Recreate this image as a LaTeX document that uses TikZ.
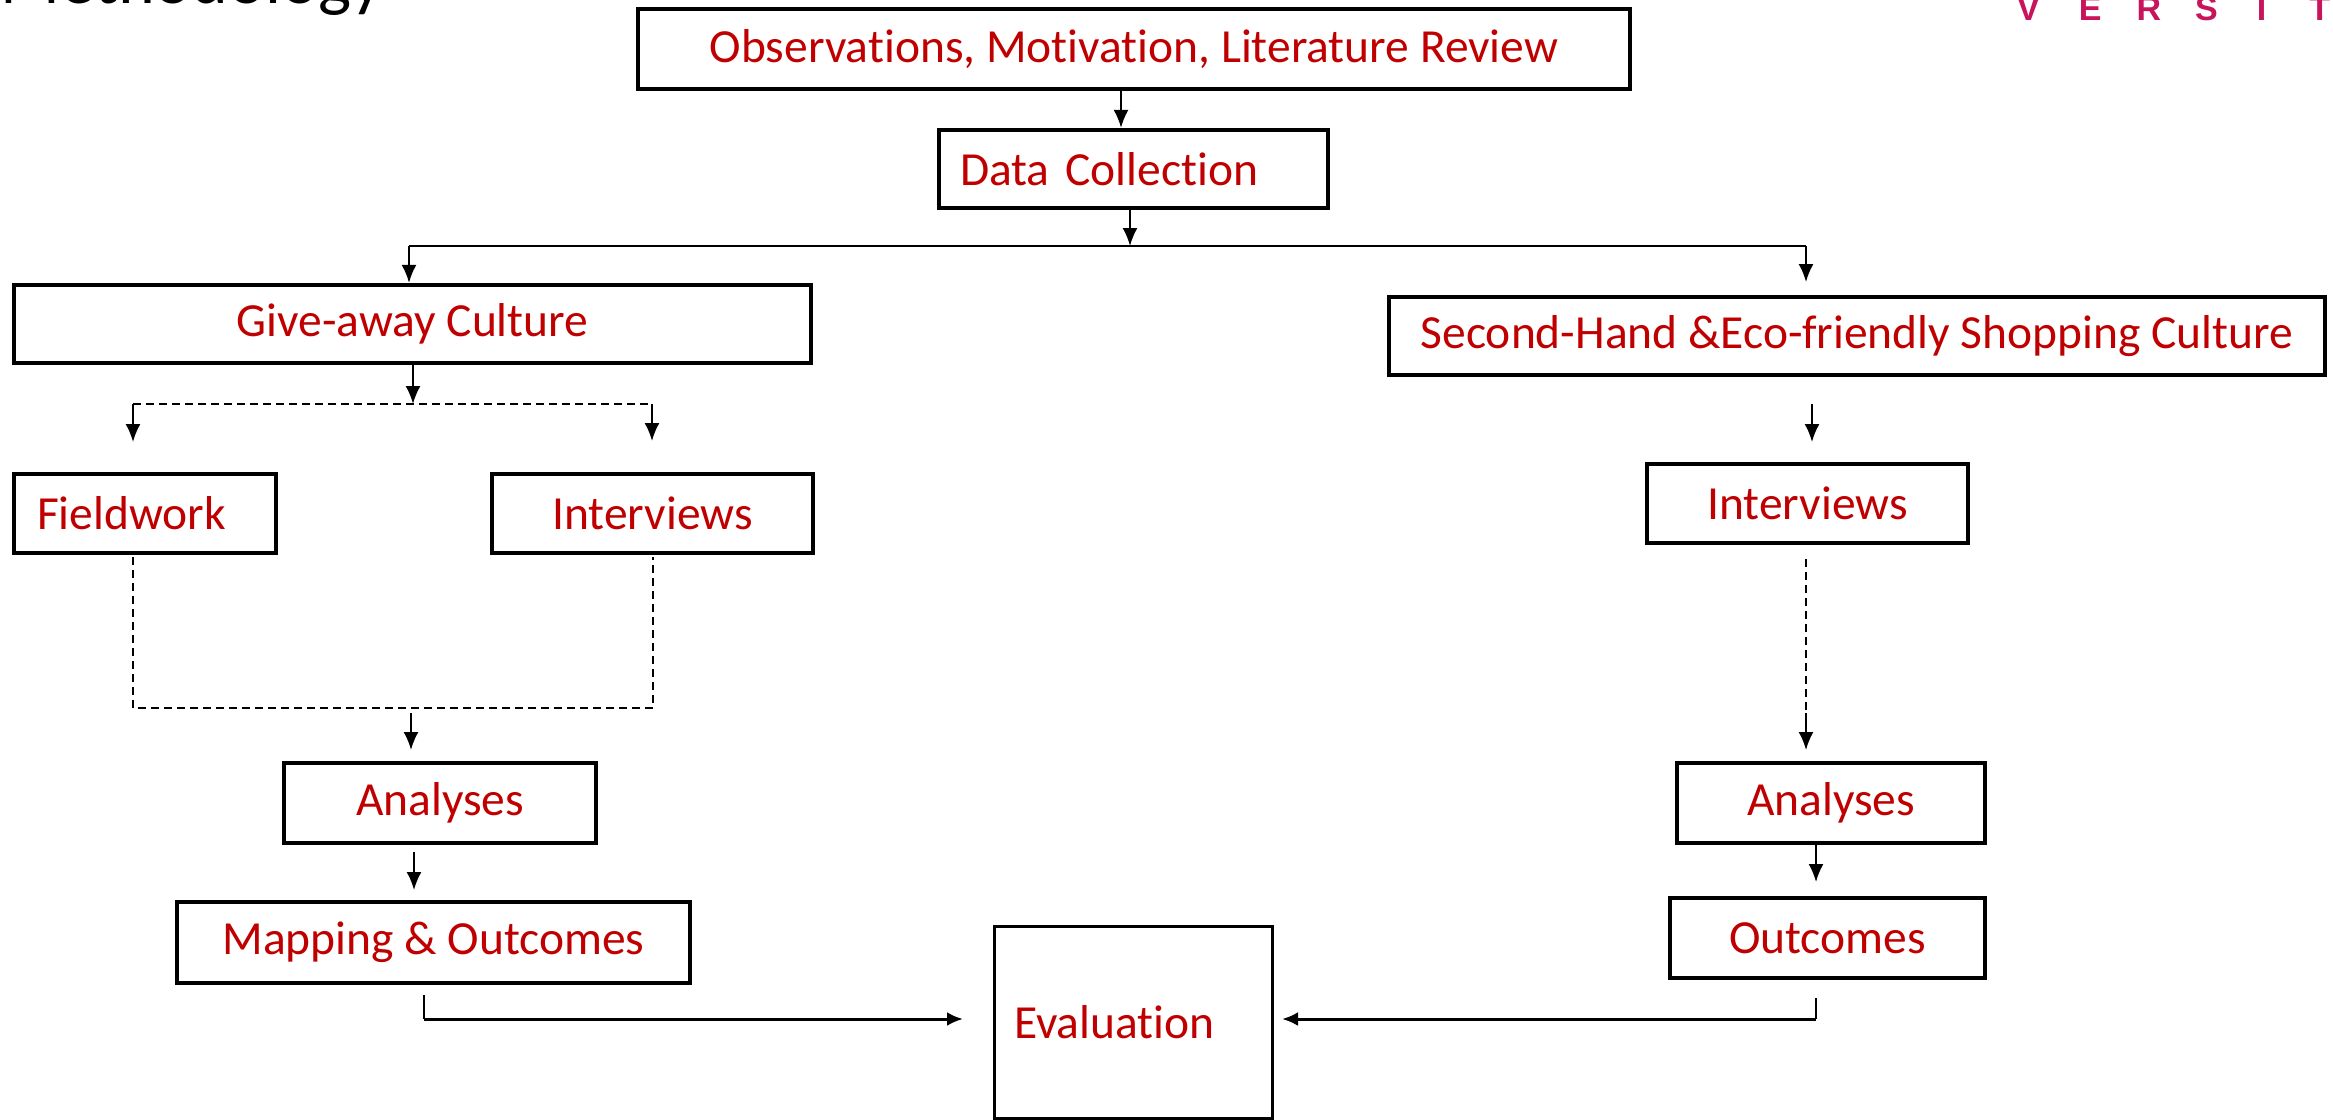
\documentclass[tikz,border=0pt]{standalone}
\usepackage{fontspec}
\setmainfont{Carlito}[Ligatures=NoCommon]
\newfontfamily\logofont{Liberation Sans}
\usetikzlibrary{arrows.meta}
\definecolor{txtred}{HTML}{C00000}
\definecolor{logopink}{HTML}{C8145A}
\begin{document}
\begin{tikzpicture}[x=1pt,y=-1pt,
  box/.style={draw=black, line width=4.3pt, inner sep=0pt, text=txtred,
    font=\fontsize{47.5}{56}\selectfont, fill=white},
  lbox/.style={box, align=left},
  arr/.style={line width=2pt, -{Latex[length=18pt,width=15pt]}},
  conn/.style={line width=1.6pt},
  dconn/.style={line width=1.6pt, dash pattern=on 8pt off 5pt},
]
\useasboundingbox[fill=white] (0,0) rectangle (2333,1119);

% partial header texts
\node[anchor=base west, inner sep=0pt, font=\fontsize{70}{80}\selectfont] (title) at (0,3) {Methodology};
\node[anchor=base west, inner sep=0pt, text=logopink, font=\logofont\bfseries\fontsize{34}{40}\selectfont] (logo) at (2017,20)
  {V\hspace{39pt}E\hspace{35pt}R\hspace{34pt}S\hspace{39pt}I\hspace{43pt}T};

% boxes
\node[box, minimum width=992, minimum height=80] (obs) at (1134,49) {Observations, Motivation, Literature Review};
\node[lbox, text width=347pt, inner xsep=21pt, minimum height=78] (data) at (1133.5,169) {Data Collection};
\node[box, minimum width=797, minimum height=78] (give) at (412.5,324) {Give-away Culture};
\node[box, minimum width=936, minimum height=78] (sec) at (1857,336) {Second-Hand \&Eco-friendly Shopping Culture};
\node[lbox, text width=216pt, inner xsep=23pt, minimum height=79] (field) at (145,513.5) {Fieldwork};
\node[box, minimum width=321, minimum height=79] (intl) at (652.5,513.5) {Interviews};
\node[box, minimum width=321, minimum height=79] (intr) at (1807.5,503.5) {Interviews};
\node[box, minimum width=312, minimum height=80] (anl) at (440,803) {Analyses};
\node[box, minimum width=308, minimum height=80] (anr) at (1831,803) {Analyses};
\node[box, minimum width=513, minimum height=81] (map) at (433.5,942.5) {Mapping \& Outcomes};
\node[box, minimum width=315, minimum height=80] (out) at (1827.5,938) {Outcomes};
\node[lbox, line width=3pt, text width=238pt, inner xsep=20pt, minimum height=192] (eval) at (1133,1022) {Evaluation};

% coordinates
\coordinate (c1) at (1121,89);
\coordinate (split) at (1130,246);
\coordinate (sl) at (409,246);
\coordinate (sr) at (1806,246);
\coordinate (srend) at (1806,282);
\coordinate (gsplit) at (413,404);
\coordinate (gl) at (133,404);
\coordinate (gr) at (652,404);
\coordinate (glend) at (133,442);
\coordinate (grend) at (652,441);
\coordinate (fl) at (133,557);
\coordinate (ml) at (133,708);
\coordinate (mr) at (653,708);
\coordinate (ir) at (653,557);
\coordinate (m1) at (411,713);
\coordinate (m2) at (411,750);
\coordinate (a1) at (414,852);
\coordinate (a2) at (414,890);
\coordinate (p1) at (424,995);
\coordinate (p2) at (424,1019);
\coordinate (p3) at (963,1019);
\coordinate (r1) at (1812,404);
\coordinate (r2) at (1812,442);
\coordinate (r3) at (1806,559);
\coordinate (r4) at (1806,713);
\coordinate (r5) at (1806,750);
\coordinate (r6) at (1816,843);
\coordinate (r7) at (1816,882);
\coordinate (q1) at (1816,998);
\coordinate (q2) at (1816,1019);
\coordinate (q3) at (1282,1019);

% connectors
\draw[arr] (c1) -- (c1 |- data.north);
\draw[arr] (data.south -| split) -- (split);
\draw[conn] (sl) -- (sr);
\draw[arr] (sl) -- (sl |- give.north);
\draw[arr] (sr) -- (srend);

\draw[arr] (give.south -| gsplit) -- (gsplit);
\draw[dconn] (gl) -- (gr);
\draw[arr] (gl) -- (glend);
\draw[arr] (gr) -- (grend);

\draw[dconn] (fl) -- (ml) -- (mr) -- (ir);
\draw[arr] (m1) -- (m2);
\draw[arr] (a1) -- (a2);
\draw[conn] (p1) -- (p2);
\draw[line width=3pt, -{Latex[length=16pt,width=14pt]}] (p2) -- (p3);

\draw[arr] (r1) -- (r2);
\draw[dconn] (r3) -- (r4);
\draw[arr] (r4) -- (r5);
\draw[arr] (r6) -- (r7);
\draw[conn] (q1) -- (q2);
\draw[line width=3pt, -{Latex[length=16pt,width=14pt]}] (q2) -- (q3);
\end{tikzpicture}
\end{document}
